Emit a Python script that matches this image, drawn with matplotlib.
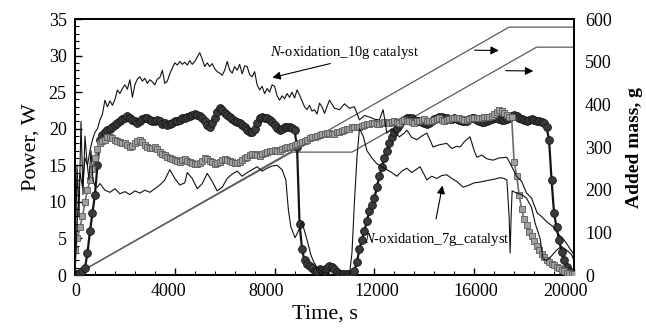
import matplotlib
matplotlib.use("Agg")
import matplotlib.pyplot as plt
from matplotlib.ticker import MultipleLocator
from matplotlib.transforms import ScaledTranslation

plt.rcParams['font.family'] = ['Liberation Serif', 'DejaVu Serif']
plt.rcParams['mathtext.fontset'] = 'custom'
plt.rcParams['mathtext.it'] = 'Liberation Serif:italic'
plt.rcParams['mathtext.rm'] = 'Liberation Serif'

# ---- data ----
t_circ = list(range(0, 20001, 100))
p_circ = [0, 0.2, 0.3, 0.5, 1, 3, 6, 8.5, 11, 15,
          18.5, 19.2, 19.5, 19.8, 20, 20.3, 20.5, 20.8, 21, 21.3,
          21.5, 21.8, 21.5, 21.2, 21, 20.8, 21, 21.3, 21.5, 21.4,
          21.2, 21, 21, 21.2, 21, 20.7, 20.8, 20.5, 20.6, 20.8,
          21, 21.1, 21.2, 21.4, 21.5, 21.6, 21.8, 21.9, 22, 21.9,
          21.8, 21.4, 21, 20.5, 20.3, 20.8, 21.5, 22.3, 22.8, 22.6,
          22.2, 21.9, 21.6, 21.3, 21, 20.9, 20.8, 20.5, 20.3, 19.8,
          19.5, 19.6, 20, 20.8, 21.4, 21.6, 21.5, 21.4, 21.2, 20.9,
          20.5, 20.1, 19.8, 20, 20.2, 20.3, 20.3, 20.1, 19.8, 17.5,
          7, 3.5, 2, 1.5, 1.2, 0.9, 0.6, 0.6, 0.8, 0.7,
          0.6, 0.9, 1.2, 1.1, 0.8, 0.4, 0.2, 0.1, 0.1, 0.1,
          0.1, 0.2, 0.6, 1.8, 3.5, 4.8, 6, 7.4, 8.7, 9.6,
          10.5, 12, 13.5, 14.8, 16, 17, 18, 18.8, 19.5, 20.1,
          20.5, 21, 21.2, 21.4, 21.5, 21.4, 21.2, 21.1, 21, 20.9,
          20.8, 20.7, 20.8, 21, 21.3, 21.5, 21.6, 21.6, 21.5, 21.4,
          21.3, 21.3, 21.4, 21.3, 21.2, 21.1, 21, 21.1, 21.3, 21.4,
          21.4, 21.2, 21, 20.9, 20.9, 21, 21.2, 21.3, 21.4, 21.4,
          21.3, 21.2, 21.2, 21.3, 21.5, 21.7, 21.9, 21.8, 21.5, 21.3,
          21.2, 21.1, 21.2, 21.3, 21.2, 21.1, 21, 20.9, 20.8, 20.2,
          18.5, 13, 8.5, 6.5, 4.8, 3.2, 2, 1.1, 0.5, 0.3,
          0.2]

t_sq = list(range(0, 20001, 100))
p_sq = [3.4, 5, 6.6, 8, 10, 11.6, 13, 14.5, 16, 17.2,
        18, 18.3, 18.5, 18.8, 18.9, 18.7, 18.5, 18.3, 18.2, 18.1,
        18, 17.8, 17.5, 17.7, 18, 18.3, 18.5, 18.2, 17.8, 17.5,
        17.3, 17.4, 17.5, 17.2, 16.8, 16.6, 16.4, 16.2, 16, 15.8,
        15.7, 15.6, 15.5, 15.7, 15.8, 15.6, 15.4, 15.3, 15.2, 15.2,
        15.3, 15.6, 16, 15.8, 15.6, 15.4, 15.2, 15.3, 15.5, 15.7,
        15.8, 15.7, 15.6, 15.4, 15.3, 15.3, 15.4, 15.7, 16, 16.2,
        16.4, 16.5, 16.6, 16.4, 16.3, 16.5, 16.7, 16.8, 16.9, 17,
        17.1, 17, 17, 17.2, 17.4, 17.5, 17.5, 17.6, 17.8, 17.9,
        18, 18.2, 18.3, 18.5, 18.7, 18.8, 18.9, 19, 19.2, 19.3,
        19.3, 19.4, 19.4, 19.3, 19.3, 19.5, 19.6, 19.7, 19.8, 19.9,
        20, 20.2, 20.3, 20.2, 20.2, 20.4, 20.5, 20.6, 20.7, 20.8,
        20.8, 20.7, 20.6, 20.8, 20.9, 20.9, 20.8, 20.9, 21, 20.9,
        20.8, 21, 21.2, 21.1, 21, 20.9, 20.8, 21, 21.1, 21.2,
        21.3, 21.1, 21, 21.1, 21.2, 21.3, 21.4, 21.2, 21.1, 21.2,
        21.3, 21.4, 21.5, 21.5, 21.4, 21.3, 21.2, 21.2, 21.3, 21.4,
        21.5, 21.5, 21.4, 21.5, 21.6, 21.6, 21.6, 21.8, 22, 22.3,
        22.6, 22.4, 22.2, 21.9, 21.6, 21.6, 15.5, 13.6, 11, 9,
        7.6, 6.8, 5.9, 5.3, 4.6, 3.9, 3.4, 2.9, 2.4, 2.0,
        1.8, 1.5, 1.3, 1.1, 0.9, 0.7, 0.5, 0.3, 0.3, 0.2,
        0.2]

t_10g = [0, 100, 200, 300, 400, 500, 600, 700, 800, 900, 1000, 1100, 1200, 1300, 1400,
         1500, 1600, 1700, 1800, 1900, 2000, 2100, 2200, 2300, 2400, 2500, 2600, 2700,
         2800, 2900, 3000, 3100, 3200, 3300, 3400, 3500, 3600, 3700, 3800, 3900, 4000,
         4100, 4200, 4300, 4400, 4500, 4600, 4700, 4800, 4900, 5000, 5100, 5200, 5300,
         5400, 5500, 5600, 5700, 5800, 5900, 6000, 6100, 6200, 6300, 6400, 6500, 6600,
         6700, 6800, 6900, 7000, 7100, 7200, 7300, 7400, 7500, 7600, 7700, 7800, 7900,
         8000, 8100, 8200, 8300, 8400, 8500, 8600, 8700, 8800, 8900, 9000, 9100, 9200,
         9300, 9400, 9500, 9600, 9700, 9800, 9900, 10000, 10200, 10400, 10600, 10800,
         11000, 11200, 11400, 11600, 11800, 12000, 12200, 12350, 12500, 12700, 12900,
         13000, 13200, 13300, 13500, 13700, 13900, 14100, 14250, 14350, 14600, 14900,
         15100, 15300, 15430, 15600, 15830, 16000, 16110, 16300, 16500, 16750, 17000,
         17310, 17510, 17700, 17900, 18100, 18300, 18520, 18700, 18900, 19160, 19400,
         19600, 19800, 19960, 20000]
p_10g = [0, 8, 14, 12, 16, 15, 17, 18.5, 19.5, 20, 21.2, 22, 23.9, 23, 23.8,
         23.2, 24, 25.3, 24.8, 25.5, 26, 25.4, 26.7, 24.3, 26, 26.8, 27.1, 26.5,
         26.9, 26.2, 26.7, 26.4, 26, 26.8, 27, 28, 26.2, 26.5, 27.5, 28.3, 29,
         28.7, 29.2, 28.8, 29.1, 28.7, 29.3, 28.8, 29.2, 29.8, 30.4, 29.5, 28.5, 29,
         28.5, 28.9, 28.2, 27.8, 27.6, 27.3, 28, 29.2, 28, 27.6, 28.5, 28, 28.8,
         27.5, 28.6, 28.5, 27.4, 27.1, 27.8, 26, 25.3, 25.8, 24.8, 25.5, 25, 26,
         25.8, 24.5, 23.9, 24.5, 24.1, 24.8, 24.3, 25, 24.2, 25.3, 24.6, 23.8, 23,
         22.6, 23.2, 22.4, 22.6, 22, 23.5, 23, 22.1, 23.9, 22.8, 22.6, 23.4,
         22.8, 23, 21.2, 21.8, 21.6, 21.3, 21.2, 22.6, 19.4, 20, 19.2,
         18.9, 19.4, 19.8, 18.8, 18.5, 19, 19.4, 18.3, 17.5, 17.8, 18,
         17.3, 17.6, 17.5, 18.2, 18.9, 17, 16.1, 16.4, 15.9, 15.7, 16,
         16.1, 14.8, 13.5, 12.8, 11.2, 10.5, 8.5, 8, 7.3, 6.6, 5.5,
         4.8, 3.8, 3, 2.5]

t_7g = [0, 80, 160, 240, 320, 400, 480, 560, 640, 720, 800, 900, 1000, 1200, 1400,
        1600, 1800, 2000, 2200, 2400, 2600, 2800, 3000, 3200, 3400, 3600, 3800, 3900,
        4000, 4200, 4400, 4500, 4700, 4900, 5100, 5300, 5500, 5700, 5900, 6100, 6300,
        6500, 6700, 6900, 7100, 7300, 7500, 7700, 7900, 8100, 8300, 8450, 8550, 8650,
        8820, 8950, 9100, 9200, 9300, 9450, 9540, 9700, 9820, 10000, 10500, 11000,
        11100, 11200, 11300, 11400, 11550, 11700, 11900, 12100, 12300, 12500, 12700,
        12900, 13100, 13300, 13500, 13700, 13830, 14000, 14100, 14300, 14500, 14700,
        14900, 15100, 15300, 15560, 15800, 16000, 16230, 16500, 16800, 17030, 17200,
        17310, 17400, 17440, 17480, 17520, 17700, 17900, 18100, 18300, 18450, 18640,
        18760, 18900, 19100, 19300, 19500, 19700, 19900, 20000]
p_7g = [0, 15, 8, 21, 11, 19, 15.5, 13, 17, 13, 12.2, 12, 12.5, 11.6, 11.3,
        11.8, 11.1, 11.4, 11.0, 11.5, 11.2, 11.6, 11.3, 11.8, 12.3, 13, 14.4, 13.8,
        13.2, 12.3, 12.6, 14, 13.2, 11.8, 12.5, 13.9, 12.8, 11.5, 12, 13.2, 13.8,
        14.2, 13.5, 14, 14.4, 14.8, 14.2, 14.6, 14.9, 15, 14.4, 13, 9, 6.6,
        5.1, 6, 7.2, 6, 4.8, 2.8, 2, 1, 0.7, 0.2, 0, 0,
        3, 10, 16, 20, 19, 17, 16, 15.2, 14.8, 14.4, 14,
        13.5, 14.2, 14.6, 14, 14.5, 14.8, 13.7, 13, 13.5, 13.2, 13.6,
        13.7, 13.2, 12.8, 12, 12.3, 12.6, 12.7, 12.9, 13.1, 13.3, 13.2,
        13, 8, 3, 8, 11.5, 11.2, 11, 10.5, 9.2, 7, 5,
        2.2, 2, 2.6, 3.4, 3.9, 3.4, 2.8, 2]

t_mass_a = [0, 17400, 20000]
m_mass_a = [0, 581, 581]
t_mass_b = [0, 8700, 11100, 18500, 20000]
m_mass_b = [0, 288, 288, 534, 534]

x_ticks = [0, 4000, 8000, 12000, 16000, 20000]
x_labels = ['0', '4000', '8000', '12000', '16000', '20000']
x_label_shift_px = [1, -6, -8, 2, 2, -8]

# ---- figure ----
fig = plt.figure(figsize=(6.46, 3.31), dpi=100)
ax = fig.add_axes([75/646, 1-275/331, (574-75)/646, (275-19)/331])
ax2 = ax.twinx()

ax2.plot(t_mass_a, m_mass_a, color='#5a5a5a', lw=0.9, zorder=1)
ax2.plot(t_mass_b, m_mass_b, color='#5a5a5a', lw=0.9, zorder=1)

ax.set_zorder(ax2.get_zorder() + 1)
ax.patch.set_visible(False)

ax.plot(t_circ, p_circ, color='#141414', lw=1.6, marker='o', ms=5.6,
        mfc='#3a3a3a', mec='#141414', mew=0.6, zorder=3)
ax.plot(t_sq, p_sq, color='#6a6a6a', lw=1.2, marker='s', ms=4.9,
        mfc='#a0a0a0', mec='#5a5a5a', mew=0.6, zorder=4)
ax.plot(t_10g, p_10g, color='#111111', lw=0.8, zorder=5)
ax.plot(t_7g, p_7g, color='#111111', lw=0.8, zorder=5)

ax.set_xlim(0, 20000)
ax.set_ylim(0, 35)
ax2.set_ylim(0, 600)

ax.set_xticks(x_ticks)
ax.set_xticklabels(x_labels)
ax.xaxis.set_minor_locator(MultipleLocator(800))
ax.yaxis.set_major_locator(MultipleLocator(5))
ax.yaxis.set_minor_locator(MultipleLocator(1))
ax2.yaxis.set_major_locator(MultipleLocator(100))

ax.tick_params(axis='both', which='major', direction='in', length=5, width=1,
               labelsize=13, pad=6, top=False, right=False)
ax.tick_params(axis='both', which='minor', direction='in', length=3, width=0.8,
               top=False, right=False)
ax2.tick_params(axis='y', which='major', direction='in', length=0,
                labelsize=13, pad=8)

for tk, dx in zip(ax.xaxis.get_major_ticks(), x_label_shift_px):
    lab = tk.label1
    lab.set_transform(lab.get_transform() + ScaledTranslation(dx/100, 0, fig.dpi_scale_trans))

for a in (ax, ax2):
    for s in a.spines.values():
        s.set_linewidth(1.4)

ax.set_xlabel('Time, s', fontsize=16, labelpad=3)
ax.set_ylabel('Power, W', fontsize=16, labelpad=6)
ax2.set_ylabel('Added mass, g', fontsize=14, fontweight='bold', labelpad=10)

# annotations
ax.annotate('', xy=(7800, 26.9), xytext=(10340, 29.0),
            arrowprops=dict(arrowstyle='-|>', color='black', lw=0.8,
                            mutation_scale=12), zorder=6)
ax.text(10800, 30.4, r'$N$-oxidation_10g catalyst', fontsize=10.5, ha='center',
        va='center', zorder=6)
ax.annotate('', xy=(14750, 12.6), xytext=(14450, 7.3),
            arrowprops=dict(arrowstyle='-|>', color='black', lw=0.8,
                            mutation_scale=12), zorder=6)
ax.text(14500, 4.9, r'$N$-oxidation_7g_catalyst', fontsize=10.5, ha='center',
        va='center', zorder=6)
ax2.annotate('', xy=(17100, 526), xytext=(15900, 527),
             arrowprops=dict(arrowstyle='-|>', color='black', lw=0.8,
                             mutation_scale=12))
ax2.annotate('', xy=(18480, 478), xytext=(17150, 479),
             arrowprops=dict(arrowstyle='-|>', color='black', lw=0.8,
                             mutation_scale=12))

fig.savefig('out.png', dpi=100)
